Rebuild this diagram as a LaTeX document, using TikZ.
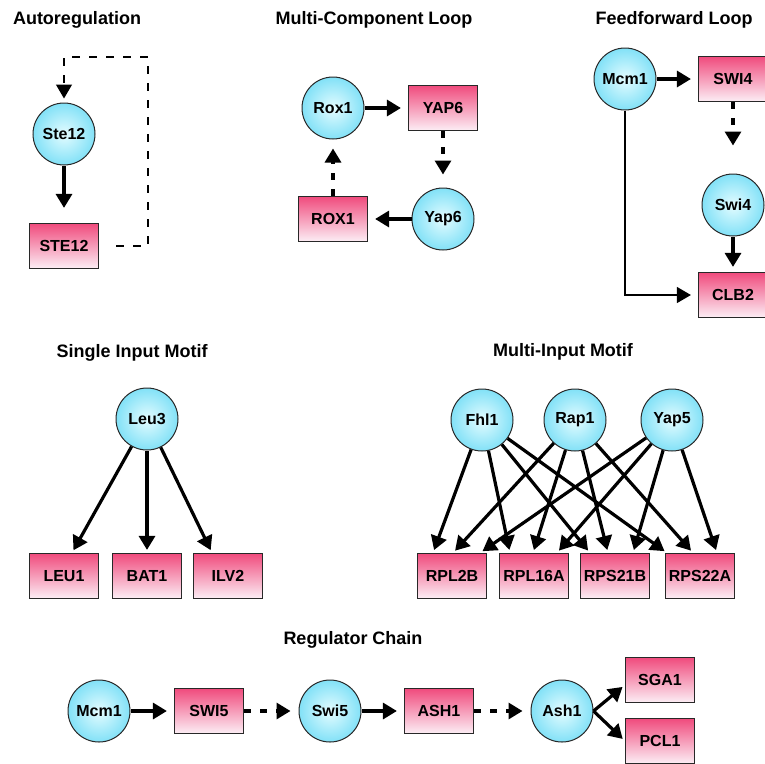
\documentclass[tikz,border=0pt]{standalone}
\usepackage{fontspec}
\setmainfont{Liberation Sans}
\usepackage{xcolor}
\usepackage{tikz}
\usetikzlibrary{positioning, arrows.meta}
\definecolor{motifCyan}{RGB}{130,225,247}
\definecolor{motifIce}{RGB}{228,252,255}
\definecolor{motifPink}{RGB}{240,75,125}
\definecolor{motifPale}{RGB}{252,238,245}
\definecolor{motifEdge}{RGB}{40,40,40}
\tikzset{
    base/.style={
        font=\fontsize{16}{18}\selectfont\bfseries,
        align=center,
        text=black
    },
    heading/.style={
        font=\fontsize{18}{20}\selectfont\bfseries,
        inner sep=0pt
    },
    protein/.style={
        base,
        circle,
        draw=motifEdge,
        line width=1pt,
        inner color=motifIce,
        outer color=motifCyan,
        inner sep=0pt,
        minimum size=62pt
    },
    gene/.style={
        base,
        rectangle,
        draw=motifEdge,
        line width=1.2pt,
        top color=motifPink,
        bottom color=motifPale,
        inner sep=1pt,
        minimum width=69pt,
        minimum height=45pt
    },
    flow/.style={
        -{Triangle[length=14pt,width=16pt]},
        line width=3.2pt,
        shorten >=7pt
    },
    link/.style={
        flow,
        dash pattern=on 7pt off 9pt
    },
    direct/.style={
        -{Triangle[length=14pt,width=16pt]},
        line width=1.2pt,
        shorten >=7pt
    },
    feedback/.style={
        direct,
        dash pattern=on 8pt off 9pt,
        shorten >=4pt
    }
}
\begin{document}
\begin{tikzpicture}[x=1pt,y=-1pt]
  \useasboundingbox (0,0) rectangle (765,763);

  % Autoregulation
  \node[heading] (tauto) at (77,20) {Autoregulation};
  \node[protein] (ste12) at (64,134) {Ste12};
  \node[gene] (ste12g) at (64,246) {STE12};
  \coordinate (fbcorner) at (148,57);
  \draw[flow, shorten >=15pt] (ste12) -- (ste12g);
  \draw[feedback] ([xshift=17pt]ste12g.east) -| (fbcorner) -| (ste12);

  % Multi-Component Loop
  \node[heading] (tloop) at (374,20) {Multi-Component Loop};
  \node[protein] (rox1) at (333,108) {Rox1};
  \node[gene] (yap6g) at (443,108) {YAP6};
  \node[protein] (yap6) at (443,219) {Yap6};
  \node[gene] (rox1g) at (333,219) {ROX1};
  \draw[flow] (rox1) -- (yap6g);
  \draw[link, shorten >=13pt] (yap6g) -- (yap6);
  \draw[flow] (yap6) -- (rox1g);
  \draw[link, shorten >=9pt] (rox1g) -- (rox1);

  % Feedforward Loop
  \node[heading] (tffl) at (674,20) {Feedforward Loop};
  \node[protein] (mcm1f) at (625,79) {Mcm1};
  \node[gene] (swi4g) at (733,79) {SWI4};
  \node[protein] (swi4) at (733,205) {Swi4};
  \node[gene] (clb2g) at (733,295) {CLB2};
  \draw[flow] (mcm1f) -- (swi4g);
  \draw[link, shorten >=28pt] (swi4g) -- (swi4);
  \draw[flow, shorten >=5pt] (swi4) -- (clb2g);
  \draw[direct] (mcm1f) |- (clb2g);

  % Single Input Motif
  \node[heading] (tsim) at (132,353) {Single Input Motif};
  \node[protein] (leu3) at (147,419) {Leu3};
  \node[gene] (leu1g) at (64,576) {LEU1};
  \node[gene] (bat1g) at (147,576) {BAT1};
  \node[gene] (ilv2g) at (228,576) {ILV2};
  \draw[flow, shorten >=3pt] (leu3) -- ([xshift=8pt]leu1g.north);
  \draw[flow, shorten >=3pt] (leu3) -- (bat1g);
  \draw[flow, shorten >=3pt] (leu3) -- ([xshift=-16pt]ilv2g.north);

  % Multi-Input Motif
  \node[heading] (tmim) at (563,352) {Multi-Input Motif};
  \node[protein] (fhl1) at (482,420) {Fhl1};
  \node[protein] (rap1) at (575,420) {Rap1};
  \node[protein] (yap5) at (672,420) {Yap5};
  \node[gene] (rpl2bg) at (452,576) {RPL2B};
  \node[gene] (rpl16ag) at (534,576) {RPL16A};
  \node[gene] (rps21bg) at (615,576) {RPS21B};
  \node[gene] (rps22ag) at (700,576) {RPS22A};
  \draw[flow, shorten >=3pt] (fhl1) -- ([xshift=-19pt]rpl2bg.north);
  \draw[flow, shorten >=3pt] (fhl1) -- ([xshift=-24pt]rpl16ag.north);
  \draw[flow, shorten >=3pt] (fhl1) -- ([xshift=-25pt]rps21bg.north);
  \draw[flow, shorten >=3pt] (fhl1) -- ([xshift=-33pt]rps22ag.north);
  \draw[flow, shorten >=3pt] (rap1) -- ([xshift=1pt]rpl2bg.north);
  \draw[flow, shorten >=3pt] (rap1) -- ([xshift=-1pt]rpl16ag.north);
  \draw[flow, shorten >=3pt] (rap1) -- ([xshift=-7pt]rps21bg.north);
  \draw[flow, shorten >=3pt] (rap1) -- ([xshift=-7pt]rps22ag.north);
  \draw[flow, shorten >=3pt] (yap5) -- ([xshift=28pt]rpl2bg.north);
  \draw[flow, shorten >=3pt] (yap5) -- ([xshift=23pt]rpl16ag.north);
  \draw[flow, shorten >=3pt] (yap5) -- ([xshift=18pt]rps21bg.north);
  \draw[flow, shorten >=3pt] (yap5) -- ([xshift=17pt]rps22ag.north);

  % Regulator Chain
  \node[heading] (tchain) at (353,640) {Regulator Chain};
  \node[protein] (mcm1c) at (99,711) {Mcm1};
  \node[gene] (swi5g) at (209,711) {SWI5};
  \node[protein] (swi5) at (330,711) {Swi5};
  \node[gene] (ash1g) at (439,711) {ASH1};
  \node[protein] (ash1) at (562,711) {Ash1};
  \node[gene] (sga1g) at (660,680) {SGA1};
  \node[gene] (pcl1g) at (660,741) {PCL1};
  \draw[flow] (mcm1c) -- (swi5g);
  \draw[link, shorten >=8pt] (swi5g) -- (swi5);
  \draw[flow] (swi5) -- (ash1g);
  \draw[link, shorten >=8pt] (ash1g) -- (ash1);
  \draw[flow, shorten >=3pt] (ash1.east) -- ([yshift=-5pt]sga1g.west);
  \draw[flow, shorten >=3pt] (ash1.east) -- (pcl1g.west);

\end{tikzpicture}
\end{document}
